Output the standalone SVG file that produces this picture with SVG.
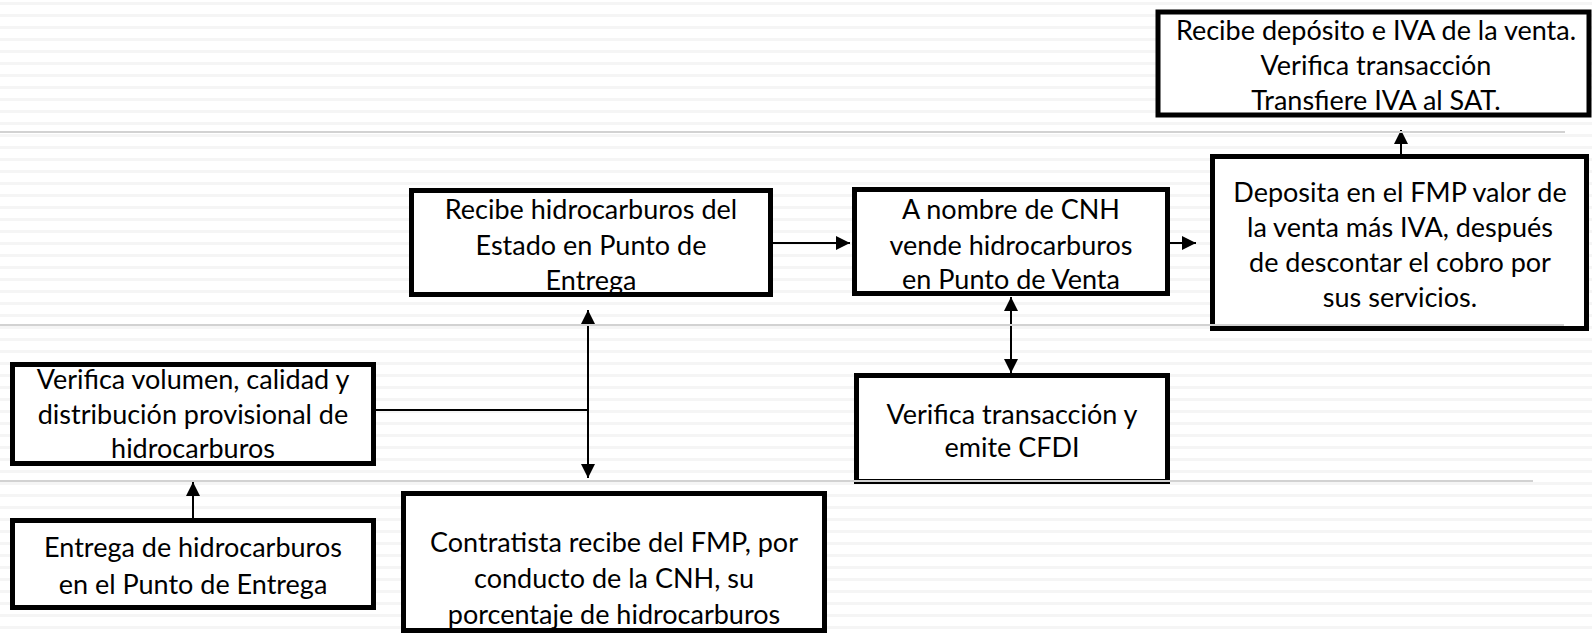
<svg xmlns="http://www.w3.org/2000/svg" width="1592" height="635" viewBox="0 0 1592 635">
<defs>
<pattern id="stripes" x="0" y="0" width="1592" height="12" patternUnits="userSpaceOnUse">
<rect x="0" y="2" width="1592" height="3" fill="#f5f5f5"/>
</pattern>
<marker id="ah" viewBox="0 0 14 14" refX="14" refY="7" markerWidth="14" markerHeight="14" markerUnits="userSpaceOnUse" orient="auto-start-reverse">
<path d="M0,0 L14,7 L0,14 Z" fill="#000"/>
</marker>
<style>
.box{fill:#fff;stroke:#000;stroke-width:5}
.t{font-family:Lato,"Liberation Sans",sans-serif;font-size:27px;fill:#000;text-anchor:middle}
.c{stroke:#000;stroke-width:2;fill:none}
.sep{stroke:#d2d2d2;stroke-width:2}
</style>
</defs>
<rect width="1592" height="635" fill="#fff"/>
<rect width="1592" height="635" fill="url(#stripes)"/>

<g id="connectors">
<line class="c" x1="773" y1="243" x2="850" y2="243" marker-end="url(#ah)"/>
<line class="c" x1="1170" y1="243" x2="1196" y2="243" marker-end="url(#ah)"/>
<line class="c" x1="1401" y1="154" x2="1401" y2="130" marker-end="url(#ah)"/>
<line class="c" x1="1011" y1="297" x2="1011" y2="373" marker-start="url(#ah)" marker-end="url(#ah)"/>
<line class="c" x1="588" y1="310" x2="588" y2="478" marker-start="url(#ah)" marker-end="url(#ah)"/>
<line class="c" x1="376" y1="410" x2="588" y2="410"/>
<line class="c" x1="193" y1="518" x2="193" y2="482" marker-end="url(#ah)"/>
</g>

<g id="n-iva">
<rect class="box" x="1158" y="12" width="431" height="103"/>
<text class="t" x="1376" y="40">Recibe depósito e IVA de la venta.</text>
<text class="t" x="1376" y="75">Verifica transacción</text>
<text class="t" x="1376" y="110">Transfiere IVA al SAT.</text>
</g>

<g id="n-recibe">
<rect class="box" x="411.5" y="190.5" width="359" height="104"/>
<text class="t" x="591" y="219">Recibe hidrocarburos del</text>
<text class="t" x="591" y="255">Estado en Punto de</text>
<text class="t" x="591" y="290">Entrega</text>
</g>

<g id="n-vende">
<rect class="box" x="854.5" y="189.5" width="313" height="104"/>
<text class="t" x="1011" y="219">A nombre de CNH</text>
<text class="t" x="1011" y="255">vende hidrocarburos</text>
<text class="t" x="1011" y="289">en Punto de Venta</text>
</g>

<g id="n-deposita">
<rect class="box" x="1212.5" y="156.5" width="374" height="172"/>
<text class="t" x="1400" y="202">Deposita en el FMP valor de</text>
<text class="t" x="1400" y="237">la venta más IVA, después</text>
<text class="t" x="1400" y="272">de descontar el cobro por</text>
<text class="t" x="1400" y="307">sus servicios.</text>
</g>

<g id="n-verifica-vol">
<rect class="box" x="12.5" y="364.5" width="361" height="99"/>
<text class="t" x="193" y="389">Verifica volumen, calidad y</text>
<text class="t" x="193" y="424">distribución provisional de</text>
<text class="t" x="193" y="458">hidrocarburos</text>
</g>

<g id="n-cfdi">
<rect class="box" x="856.5" y="375.5" width="311" height="106"/>
<text class="t" x="1012" y="424">Verifica transacción y</text>
<text class="t" x="1012" y="457">emite CFDI</text>
</g>

<g id="n-entrega">
<rect class="box" x="12.5" y="520.5" width="361" height="87"/>
<text class="t" x="193" y="557">Entrega de hidrocarburos</text>
<text class="t" x="193" y="594">en el Punto de Entrega</text>
</g>

<g id="n-contratista">
<rect class="box" x="403.5" y="493.5" width="421" height="137"/>
<text class="t" x="614" y="552">Contratista recibe del FMP, por</text>
<text class="t" x="614" y="588">conducto de la CNH, su</text>
<text class="t" x="614" y="624">porcentaje de hidrocarburos</text>
</g>

<g id="separators">
<line class="sep" x1="0" y1="132" x2="1565" y2="132"/>
<line class="sep" x1="0" y1="325" x2="1564" y2="325"/>
<line class="sep" x1="0" y1="481" x2="1533" y2="481"/>
</g>
</svg>
